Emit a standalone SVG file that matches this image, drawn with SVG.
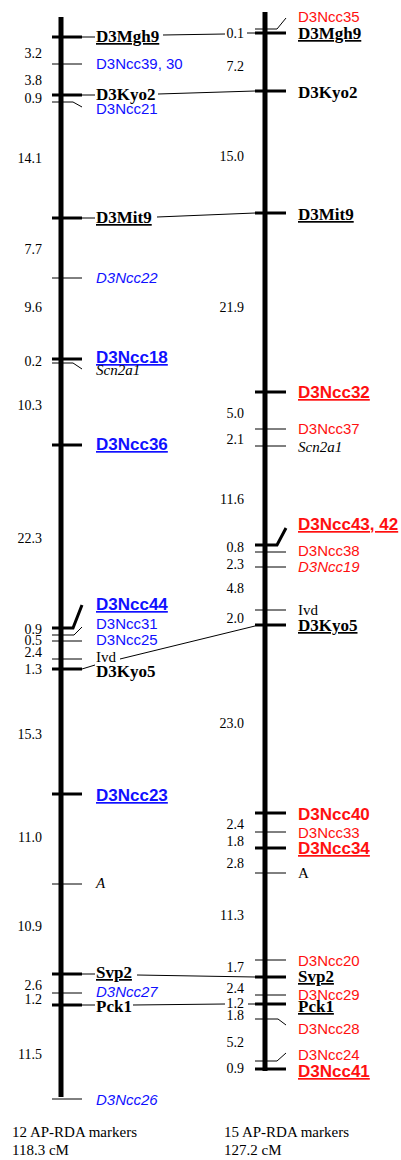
<svg xmlns="http://www.w3.org/2000/svg" width="401" height="1160" viewBox="0 0 401 1160">
<style>
.bar{stroke:#000;stroke-width:5}
.tk{stroke:#000;stroke-width:3;fill:none}
.tn{stroke:#000;stroke-width:1;fill:none}
.cn{stroke:#000;stroke-width:1;fill:none}
.num{font-family:"Liberation Serif",serif;font-size:14px;text-anchor:end;fill:#000}
.mb{font-family:"Liberation Serif",serif;font-size:17px;font-weight:bold;fill:#000}
.sb{font-family:"Liberation Sans",sans-serif;font-size:17px;font-weight:bold}
.s{font-family:"Liberation Sans",sans-serif;font-size:15px}
.it{font-family:"Liberation Serif",serif;font-size:15px;font-style:italic;fill:#000}
.sr{font-family:"Liberation Serif",serif;font-size:15px;fill:#000}
.i{font-style:italic}
.u{text-decoration:underline}
.blue{fill:#1010ff}
.red{fill:#ff1010}
.foot{font-family:"Liberation Serif",serif;font-size:15px;fill:#000}
</style>
<rect width="401" height="1160" fill="#fff"/>

<g id="chromosomeL">
<line class="bar" x1="61" y1="17" x2="61" y2="1097"/>
</g>
<g id="chromosomeR">
<line class="bar" x1="265" y1="12" x2="265" y2="1071"/>
</g>

<g id="distancesL">
<text class="num" x="42" y="58">3.2</text>
<text class="num" x="42" y="85">3.8</text>
<text class="num" x="42" y="103">0.9</text>
<text class="num" x="42" y="163">14.1</text>
<text class="num" x="42" y="254">7.7</text>
<text class="num" x="42" y="312">9.6</text>
<text class="num" x="42" y="366">0.2</text>
<text class="num" x="42" y="410">10.3</text>
<text class="num" x="42" y="543">22.3</text>
<text class="num" x="42" y="634">0.9</text>
<text class="num" x="42" y="645">0.5</text>
<text class="num" x="42" y="657">2.4</text>
<text class="num" x="42" y="674">1.3</text>
<text class="num" x="42" y="739">15.3</text>
<text class="num" x="42" y="842">11.0</text>
<text class="num" x="42" y="931">10.9</text>
<text class="num" x="42" y="990">2.6</text>
<text class="num" x="42" y="1004">1.2</text>
<text class="num" x="42" y="1059">11.5</text>
</g>

<g id="distancesR">
<text class="num" x="244" y="38">0.1</text>
<text class="num" x="244" y="71">7.2</text>
<text class="num" x="244" y="161">15.0</text>
<text class="num" x="244" y="312">21.9</text>
<text class="num" x="244" y="418">5.0</text>
<text class="num" x="244" y="444">2.1</text>
<text class="num" x="244" y="504">11.6</text>
<text class="num" x="244" y="552">0.8</text>
<text class="num" x="244" y="569">2.3</text>
<text class="num" x="244" y="593">4.8</text>
<text class="num" x="244" y="623">2.0</text>
<text class="num" x="244" y="728">23.0</text>
<text class="num" x="244" y="829">2.4</text>
<text class="num" x="244" y="846">1.8</text>
<text class="num" x="244" y="868">2.8</text>
<text class="num" x="244" y="920">11.3</text>
<text class="num" x="244" y="972">1.7</text>
<text class="num" x="244" y="993">2.4</text>
<text class="num" x="244" y="1008">1.2</text>
<text class="num" x="244" y="1020">1.8</text>
<text class="num" x="244" y="1047">5.2</text>
<text class="num" x="244" y="1073">0.9</text>
</g>

<!-- Left markers -->
<g id="L-D3Mgh9"><line class="tk" x1="52" y1="37" x2="82" y2="37"/><line class="tn" x1="82" y1="37" x2="95" y2="37"/><text class="mb u" x="96" y="42">D3Mgh9</text></g>
<g id="L-D3Ncc39-30"><line class="tn" x1="52" y1="64" x2="82" y2="64"/><text class="s blue" x="96" y="69">D3Ncc39, 30</text></g>
<g id="L-D3Kyo2"><line class="tk" x1="52" y1="95" x2="82" y2="95"/><line class="tn" x1="82" y1="95" x2="95" y2="95"/><text class="mb" x="96" y="100">D3Kyo2</text></g>
<g id="L-D3Ncc21"><polyline class="tn" points="52,102 73,102 82,107"/><text class="s blue" x="96" y="114">D3Ncc21</text></g>
<g id="L-D3Mit9"><line class="tk" x1="52" y1="218" x2="82" y2="218"/><line class="tn" x1="82" y1="218" x2="95" y2="218"/><text class="mb u" x="96" y="223">D3Mit9</text></g>
<g id="L-D3Ncc22"><line class="tn" x1="52" y1="278" x2="82" y2="278"/><text class="s i blue" x="96" y="283">D3Ncc22</text></g>
<g id="L-D3Ncc18"><line class="tk" x1="52" y1="359" x2="82" y2="359"/><text class="sb u blue" x="96" y="363">D3Ncc18</text></g>
<g id="L-Scn2a1"><polyline class="tn" points="52,363 73,363 82,369"/><text class="it" x="96" y="375">Scn2a1</text></g>
<g id="L-D3Ncc36"><line class="tk" x1="52" y1="445" x2="82" y2="445"/><text class="sb u blue" x="96" y="450">D3Ncc36</text></g>
<g id="L-D3Ncc44"><polyline class="tk" points="52,628 73,628 82,605"/><text class="sb u blue" x="96" y="610">D3Ncc44</text></g>
<g id="L-D3Ncc31"><polyline class="tn" points="52,635 74,635 82,627"/><text class="s blue" x="96" y="629">D3Ncc31</text></g>
<g id="L-D3Ncc25"><line class="tn" x1="52" y1="641" x2="82" y2="641"/><text class="s blue" x="96" y="645">D3Ncc25</text></g>
<g id="L-Ivd"><line class="tn" x1="52" y1="659" x2="82" y2="659"/><text class="sr" x="96" y="662">Ivd</text></g>
<g id="L-D3Kyo5"><line class="tk" x1="52" y1="669" x2="82" y2="669"/><line class="tn" x1="82" y1="669" x2="95" y2="665"/><text class="mb" x="96" y="677">D3Kyo5</text></g>
<g id="L-D3Ncc23"><line class="tk" x1="52" y1="794" x2="82" y2="794"/><text class="sb u blue" x="96" y="801">D3Ncc23</text></g>
<g id="L-A"><line class="tn" x1="52" y1="884" x2="82" y2="884"/><text class="it" x="96" y="888">A</text></g>
<g id="L-Svp2"><line class="tk" x1="52" y1="974" x2="82" y2="974"/><line class="tn" x1="82" y1="974" x2="95" y2="974"/><text class="mb u" x="96" y="978">Svp2</text></g>
<g id="L-D3Ncc27"><line class="tn" x1="52" y1="993" x2="82" y2="993"/><text class="s i blue" x="96" y="997">D3Ncc27</text></g>
<g id="L-Pck1"><line class="tk" x1="52" y1="1005" x2="82" y2="1005"/><line class="tn" x1="82" y1="1005" x2="95" y2="1005"/><text class="mb" x="96" y="1012">Pck1</text></g>
<g id="L-D3Ncc26"><line class="tn" x1="52" y1="1099" x2="82" y2="1099"/><text class="s i blue" x="96" y="1105">D3Ncc26</text></g>

<!-- Right markers -->
<g id="R-D3Ncc35"><polyline class="tn" points="255,29 277,29 286,18"/><text class="s red" x="298" y="22">D3Ncc35</text></g>
<g id="R-D3Mgh9"><line class="tk" x1="255" y1="33" x2="286" y2="33"/><text class="mb u" x="298" y="39">D3Mgh9</text></g>
<g id="R-D3Kyo2"><line class="tk" x1="255" y1="91" x2="286" y2="91"/><text class="mb" x="298" y="98">D3Kyo2</text></g>
<g id="R-D3Mit9"><line class="tk" x1="255" y1="213" x2="286" y2="213"/><text class="mb u" x="298" y="220">D3Mit9</text></g>
<g id="R-D3Ncc32"><line class="tk" x1="255" y1="392" x2="286" y2="392"/><text class="sb u red" x="298" y="398">D3Ncc32</text></g>
<g id="R-D3Ncc37"><line class="tn" x1="255" y1="429" x2="286" y2="429"/><text class="s red" x="298" y="434">D3Ncc37</text></g>
<g id="R-Scn2a1"><line class="tn" x1="255" y1="446" x2="286" y2="446"/><text class="it" x="298" y="452">Scn2a1</text></g>
<g id="R-D3Ncc43-42"><polyline class="tk" points="255,545 277,545 286,528"/><text class="sb u red" x="298" y="530">D3Ncc43, 42</text></g>
<g id="R-D3Ncc38"><line class="tn" x1="255" y1="552" x2="286" y2="552"/><text class="s red" x="298" y="556">D3Ncc38</text></g>
<g id="R-D3Ncc19"><line class="tn" x1="255" y1="567" x2="286" y2="567"/><text class="s i red" x="298" y="572">D3Ncc19</text></g>
<g id="R-Ivd"><line class="tn" x1="255" y1="610" x2="286" y2="610"/><text class="sr" x="298" y="615">Ivd</text></g>
<g id="R-D3Kyo5"><line class="tk" x1="255" y1="625" x2="286" y2="625"/><text class="mb u" x="298" y="631">D3Kyo5</text></g>
<g id="R-D3Ncc40"><line class="tk" x1="255" y1="813" x2="286" y2="813"/><text class="sb red" x="298" y="820">D3Ncc40</text></g>
<g id="R-D3Ncc33"><line class="tn" x1="255" y1="832" x2="286" y2="832"/><text class="s red" x="298" y="838">D3Ncc33</text></g>
<g id="R-D3Ncc34"><line class="tk" x1="255" y1="848" x2="286" y2="848"/><text class="sb u red" x="298" y="854">D3Ncc34</text></g>
<g id="R-A"><line class="tn" x1="255" y1="873" x2="286" y2="873"/><text class="sr" x="298" y="878">A</text></g>
<g id="R-D3Ncc20"><line class="tn" x1="255" y1="960" x2="286" y2="960"/><text class="s red" x="298" y="966">D3Ncc20</text></g>
<g id="R-Svp2"><line class="tk" x1="255" y1="977" x2="286" y2="977"/><text class="mb u" x="298" y="982">Svp2</text></g>
<g id="R-D3Ncc29"><line class="tn" x1="255" y1="995" x2="286" y2="995"/><text class="s red" x="298" y="1000">D3Ncc29</text></g>
<g id="R-Pck1"><line class="tk" x1="255" y1="1004" x2="286" y2="1004"/><text class="mb u" x="298" y="1012">Pck1</text></g>
<g id="R-D3Ncc28"><polyline class="tn" points="255,1019 278,1019 286,1025"/><text class="s red" x="298" y="1034">D3Ncc28</text></g>
<g id="R-D3Ncc24"><polyline class="tn" points="255,1061 277,1061 286,1053"/><text class="s red" x="298" y="1060">D3Ncc24</text></g>
<g id="R-D3Ncc41"><line class="tk" x1="255" y1="1069" x2="286" y2="1069"/><text class="sb u red" x="298" y="1077">D3Ncc41</text></g>

<g id="connectors">
<line class="cn" x1="163" y1="35" x2="225" y2="34"/>
<line class="cn" x1="247" y1="33" x2="255" y2="33"/>
<line class="cn" x1="158" y1="94" x2="255" y2="91"/>
<line class="cn" x1="157" y1="217" x2="255" y2="213"/>
<line class="cn" x1="120" y1="659" x2="255" y2="626"/>
<line class="cn" x1="137" y1="975" x2="255" y2="977"/>
<line class="cn" x1="133" y1="1005" x2="225" y2="1004"/>
<line class="cn" x1="248" y1="1004" x2="255" y2="1004"/>
</g>

<g id="footerL">
<text class="foot" x="12" y="1137">12 AP-RDA markers</text>
<text class="foot" x="12" y="1155">118.3 cM</text>
</g>
<g id="footerR">
<text class="foot" x="224" y="1137">15 AP-RDA markers</text>
<text class="foot" x="224" y="1155">127.2 cM</text>
</g>
</svg>
